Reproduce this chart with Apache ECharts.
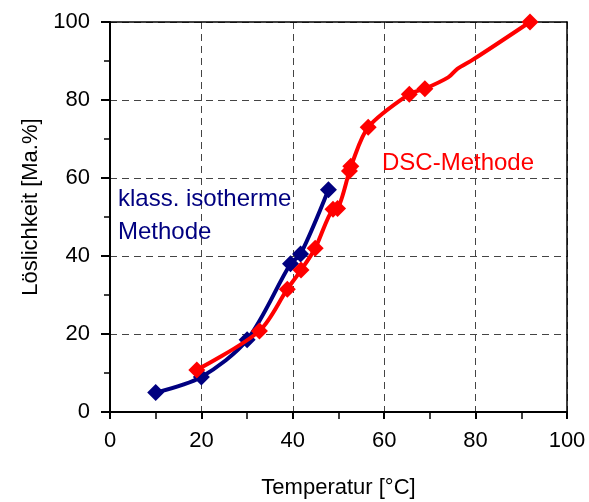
<!DOCTYPE html>
<html>
<head>
<meta charset="utf-8">
<script src="https://cdn.jsdelivr.net/npm/echarts@6/dist/echarts.min.js"></script>
<style>
html,body{margin:0;padding:0;background:#fff;}
#chart{width:589px;height:502px;}
</style>
</head>
<body>
<div id="chart"></div>
<script>
// Klassische isotherme Methode
var klassTemp = [10, 20, 30, 39.5, 41.7, 47.8];
var klassSol  = [5, 9, 18.5, 38, 40.5, 57];

// DSC-Methode (measured points)
var dscTemp = [19, 32.7, 38.8, 41.8, 44.9, 48.8, 49.8, 52.4, 52.7, 56.5, 65.5, 68.9, 74, 76, 79.5, 91.9];
var dscSol  = [10.8, 20.8, 31.5, 36.4, 42, 52, 52.2, 61.8, 63, 73, 81.5, 82.9, 85.8, 88, 90.4, 100];
// 1 = measured point with marker, 0 = curve vertex without marker
var dscMarked = [1, 1, 1, 1, 1, 1, 1, 1, 1, 1, 1, 1, 0, 0, 0, 1];

var xTicks = [0, 20, 40, 60, 80, 100];
var yTicks = [0, 20, 40, 60, 80, 100];

var FONT = "'Liberation Sans', Arial, sans-serif";

var klassData = klassTemp.map(function (t, i) { return [t, klassSol[i]]; });
var dscData = dscTemp.map(function (t, i) {
  var item = { value: [t, dscSol[i]] };
  if (!dscMarked[i]) { item.symbol = 'none'; }
  return item;
});

var chart = echarts.init(document.getElementById('chart'), null, { renderer: 'canvas' });

chart.setOption({
  animation: false,
  backgroundColor: '#ffffff',
  grid: { left: 110, right: 22, top: 22, bottom: 90, containLabel: false, outerBoundsMode: 'none' },
  xAxis: [{
    type: 'value', min: xTicks[0], max: xTicks[xTicks.length - 1], interval: 20,
    position: 'bottom',
    name: 'Temperatur [°C]', nameLocation: 'middle', nameGap: 65,
    nameTextStyle: { fontFamily: FONT, fontSize: 22, color: '#000' },
    axisLine: { show: true, onZero: false, lineStyle: { color: '#000', width: 2 } },
    axisTick: { show: true, inside: false, length: 7, lineStyle: { color: '#000', width: 2 } },
    minorTick: { show: true, splitNumber: 2, length: 7, lineStyle: { color: '#000', width: 1.5 } },
    axisLabel: { margin: 18, fontFamily: FONT, fontSize: 22, color: '#000' },
    splitLine: { show: true, lineStyle: { color: '#444', width: 1, type: [7, 5] } }
  }, {
    type: 'value', min: xTicks[0], max: xTicks[xTicks.length - 1], interval: 20,
    position: 'top',
    axisLine: { show: true, onZero: false, lineStyle: { color: '#000', width: 1.5 } },
    axisTick: { show: false }, axisLabel: { show: false }, splitLine: { show: false }
  }],
  yAxis: [{
    type: 'value', min: yTicks[0], max: yTicks[yTicks.length - 1], interval: 20,
    position: 'left',
    name: 'Löslichkeit [Ma.%]', nameLocation: 'middle', nameGap: 66,
    nameTextStyle: { fontFamily: FONT, fontSize: 22, color: '#000', padding: [0, 0, 0, 20] },
    axisLine: { show: true, onZero: false, lineStyle: { color: '#000', width: 2 } },
    axisTick: { show: true, inside: false, length: 9, lineStyle: { color: '#000', width: 2 } },
    minorTick: { show: true, splitNumber: 2, length: 6, lineStyle: { color: '#000', width: 1.5 } },
    axisLabel: { margin: 20, fontFamily: FONT, fontSize: 22, color: '#000' },
    splitLine: { show: true, lineStyle: { color: '#444', width: 1, type: [7, 5] } }
  }, {
    type: 'value', min: yTicks[0], max: yTicks[yTicks.length - 1], interval: 20,
    position: 'right',
    axisLine: { show: true, onZero: false, lineStyle: { color: '#000', width: 1.5 } },
    axisTick: { show: false }, axisLabel: { show: false }, splitLine: { show: false }
  }],
  series: [{
    name: 'klass. isotherme Methode',
    type: 'line', xAxisIndex: 0, yAxisIndex: 0,
    data: klassData, smooth: 0.3,
    symbol: 'diamond', symbolSize: 17,
    lineStyle: { color: '#000080', width: 4 },
    itemStyle: { color: '#000080' },
    z: 3
  }, {
    name: 'DSC-Methode',
    type: 'line', xAxisIndex: 0, yAxisIndex: 0,
    data: dscData, smooth: 0.3,
    symbol: 'diamond', symbolSize: 17,
    lineStyle: { color: '#ff0000', width: 4 },
    itemStyle: { color: '#ff0000' },
    z: 4
  }],
  graphic: [
    { type: 'text', left: 118, top: 183, z: 10,
      style: { text: 'klass. isotherme\nMethode', font: '24px ' + FONT, fill: '#000080', lineHeight: 33 } },
    { type: 'text', left: 382, top: 151, z: 10,
      style: { text: 'DSC-Methode', font: '24px ' + FONT, fill: '#ff0000' } }
  ]
});
</script>
</body>
</html>
